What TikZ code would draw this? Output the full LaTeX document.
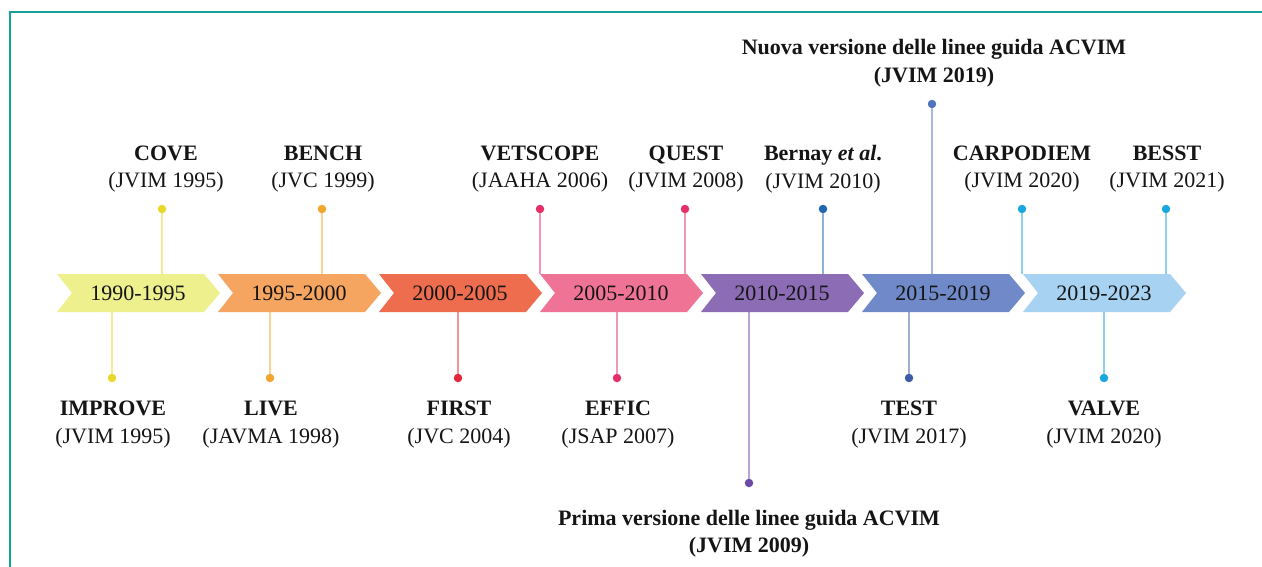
\documentclass[tikz,border=0pt]{standalone}
\usepackage{fontspec}
\setmainfont{Liberation Serif}
\definecolor{frameC}{HTML}{17A09B}
\definecolor{cA}{HTML}{EEF08E}
\definecolor{cB}{HTML}{F5A55F}
\definecolor{cC}{HTML}{EE6D4F}
\definecolor{cD}{HTML}{EF7395}
\definecolor{cE}{HTML}{8B6CB5}
\definecolor{cF}{HTML}{7089C8}
\definecolor{cG}{HTML}{A8D2F1}
\definecolor{dY}{HTML}{E9D82A}
\definecolor{dO}{HTML}{F2A62E}
\definecolor{dR}{HTML}{E3283B}
\definecolor{dP}{HTML}{E52F68}
\definecolor{dB}{HTML}{2067AF}
\definecolor{dN}{HTML}{4F74BD}
\definecolor{dU}{HTML}{6B4BA6}
\definecolor{dT}{HTML}{3E5BA5}
\definecolor{dC}{HTML}{1AA6DE}
\definecolor{txt}{HTML}{151515}
\begin{document}
\begin{tikzpicture}[x=1pt,y=-1pt,
  every node/.style={font=\fontsize{22}{27.5}\selectfont, text=txt, inner sep=0pt, align=center},
  dot/.style={circle, fill=#1, minimum size=8.5pt, inner sep=0pt},
  stem/.style={draw=#1!50!white, line width=1.3pt},
  frame/.style={draw=frameC, line width=2.6pt}]
\useasboundingbox (0,0) rectangle (1262,566);
\fill[white] (0,0) rectangle (1262,566);
\draw[frame] (10,570) -- (10,12) -- (1266,12);

% connector end points on chevron edges
\coordinate (t1) at (162,274);
\coordinate (t2) at (322,274);
\coordinate (t3) at (540,274);
\coordinate (t4) at (685,274);
\coordinate (t5) at (823,274);
\coordinate (t6) at (932,274);
\coordinate (t7) at (1022,274);
\coordinate (t8) at (1166,274);
\coordinate (b1) at (112,312);
\coordinate (b2) at (270,312);
\coordinate (b3) at (458,312);
\coordinate (b4) at (617,312);
\coordinate (b5) at (749,312);
\coordinate (b6) at (909,312);
\coordinate (b7) at (1104,312);

% dots
\node[dot=dY] (u1) at (162,209) {};
\node[dot=dO] (u2) at (322,209) {};
\node[dot=dP] (u3) at (540,209) {};
\node[dot=dP] (u4) at (685,209) {};
\node[dot=dB] (u5) at (823,209) {};
\node[dot=dN] (u6) at (932,104) {};
\node[dot=dC] (u7) at (1022,209) {};
\node[dot=dC] (u8) at (1166,209) {};
\node[dot=dY] (v1) at (112,378) {};
\node[dot=dO] (v2) at (270,378) {};
\node[dot=dR] (v3) at (458,378) {};
\node[dot=dP] (v4) at (617,378) {};
\node[dot=dU] (v5) at (749,483) {};
\node[dot=dT] (v6) at (909,378) {};
\node[dot=dC] (v7) at (1104,378) {};

% stems
\draw[stem=dY] (u1) -- (t1);
\draw[stem=dO] (u2) -- (t2);
\draw[stem=dP] (u3) -- (t3);
\draw[stem=dP] (u4) -- (t4);
\draw[stem=dB] (u5) -- (t5);
\draw[stem=dN] (u6) -- (t6);
\draw[stem=dC] (u7) -- (t7);
\draw[stem=dC] (u8) -- (t8);
\draw[stem=dY] (b1) -- (v1);
\draw[stem=dO] (b2) -- (v2);
\draw[stem=dR] (b3) -- (v3);
\draw[stem=dP] (b4) -- (v4);
\draw[stem=dU] (b5) -- (v5);
\draw[stem=dT] (b6) -- (v6);
\draw[stem=dC] (b7) -- (v7);

% chevrons
\foreach \x/\c/\t/\n in {57/cA/1990-1995/p1, 218/cB/1995-2000/p2, 379/cC/2000-2005/p3,
  540/cD/2005-2010/p4, 701/cE/2010-2015/p5, 862/cF/2015-2019/p6, 1023/cG/2019-2023/p7}{
  \fill[\c] (\x,274) -- ++(147,0) -- ++(16,19) -- ++(-16,19) -- ++(-147,0) -- ++(15,-19) -- cycle;
  \node (\n) at (\x+81,293.5) {\t};
}

% top labels
\node (l1) at (166,169) {\textbf{COVE}\\(JVIM 1995)};
\node (l2) at (323,169) {\textbf{BENCH}\\(JVC 1999)};
\node (l3) at (540,169) {\textbf{VETSCOPE}\\(JAAHA 2006)};
\node (l4) at (686,169) {\textbf{QUEST}\\(JVIM 2008)};
\node (l5) at (823,169) {\textbf{Bernay \textit{et al}.}\\(JVIM 2010)};
\node (l6) at (934,63) {\textbf{Nuova versione delle linee guida ACVIM}\\\textbf{(JVIM 2019)}};
\node (l7) at (1022,169) {\textbf{CARPODIEM}\\(JVIM 2020)};
\node (l8) at (1167,169) {\textbf{BESST}\\(JVIM 2021)};
% bottom labels
\node (m1) at (113,424.5) {\textbf{IMPROVE}\\(JVIM 1995)};
\node (m2) at (271,424.5) {\textbf{LIVE}\\(JAVMA 1998)};
\node (m3) at (459,424.5) {\textbf{FIRST}\\(JVC 2004)};
\node (m4) at (618,424.5) {\textbf{EFFIC}\\(JSAP 2007)};
\node (m5) at (749,533.5) {\textbf{Prima versione delle linee guida ACVIM}\\\textbf{(JVIM 2009)}};
\node (m6) at (909,424.5) {\textbf{TEST}\\(JVIM 2017)};
\node (m7) at (1104,424.5) {\textbf{VALVE}\\(JVIM 2020)};
\end{tikzpicture}
\end{document}
